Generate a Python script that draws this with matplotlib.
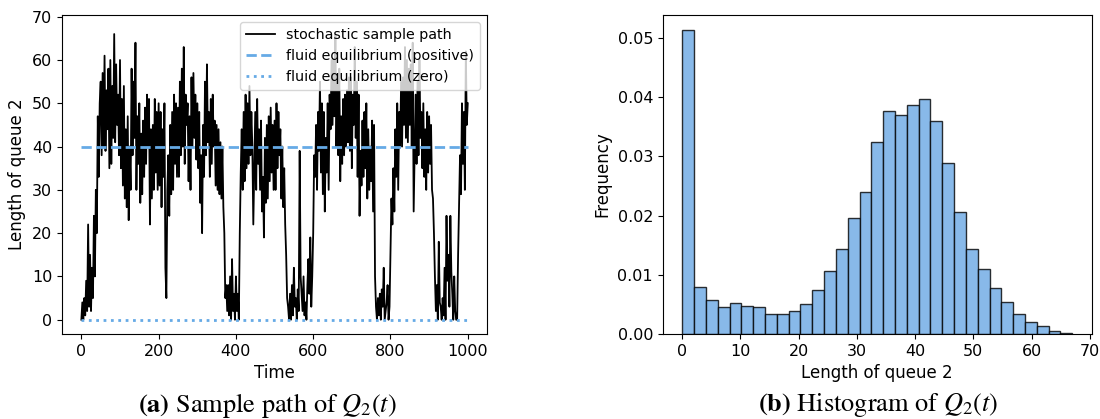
import matplotlib.pyplot as plt
import numpy as np

plt.rcParams['mathtext.fontset'] = 'stix'

# sample path of queue 2, read every 2.5 time units
times = np.arange(0, 1000.1, 2.5)
queue2 = [
    0, 4, 0, 5, 1, 9, 2, 22, 3, 15, 2, 12, 5, 24, 10, 30, 20, 47, 33, 50,
    55, 38, 57, 40, 61, 39, 53, 44, 58, 35, 60, 36, 54, 42, 66, 41, 59, 45, 52, 38,
    60, 35, 51, 31, 54, 28, 44, 26, 47, 23, 40, 30, 58, 38, 55, 42, 64, 30, 47, 36,
    50, 27, 43, 29, 46, 33, 49, 36, 52, 40, 51, 22, 44, 28, 45, 30, 51, 34, 48, 30,
    50, 31, 48, 26, 44, 33, 50, 12, 5, 30, 38, 24, 45, 29, 48, 30, 52, 36, 50, 33,
    49, 33, 55, 38, 58, 40, 63, 36, 52, 45, 50, 32, 47, 30, 56, 40, 57, 42, 52, 37,
    50, 35, 48, 27, 38, 20, 45, 33, 55, 38, 59, 41, 48, 33, 51, 36, 52, 40, 46, 31,
    45, 30, 44, 29, 41, 28, 40, 26, 20, 5, 8, 2, 8, 1, 10, 0, 14, 2, 6, 0,
    10, 2, 6, 0, 20, 34, 44, 30, 48, 32, 52, 35, 50, 36, 54, 38, 48, 40, 22, 35,
    48, 30, 51, 36, 44, 30, 46, 25, 33, 19, 42, 27, 45, 28, 47, 32, 49, 34, 45, 30,
    46, 30, 50, 35, 48, 38, 44, 28, 40, 26, 35, 22, 15, 5, 3, 0, 6, 0, 8, 1,
    12, 3, 5, 0, 7, 2, 39, 10, 6, 2, 10, 1, 4, 0, 8, 14, 6, 19, 3, 10,
    20, 38, 33, 45, 30, 48, 39, 55, 34, 50, 29, 48, 25, 42, 34, 50, 30, 52, 44, 60,
    45, 60, 47, 66, 40, 55, 38, 58, 32, 47, 36, 51, 38, 52, 40, 53, 41, 56, 39, 56,
    35, 52, 45, 63, 42, 55, 33, 52, 24, 39, 31, 46, 33, 48, 35, 50, 28, 44, 30, 40,
    32, 46, 25, 45, 10, 3, 0, 5, 1, 6, 0, 7, 3, 12, 0, 2, 4, 8, 0, 3,
    15, 28, 22, 35, 25, 44, 33, 50, 30, 48, 40, 55, 40, 56, 45, 63, 42, 60, 41, 58,
    45, 59, 40, 64, 25, 38, 52, 36, 55, 38, 60, 42, 48, 35, 50, 33, 44, 30, 48, 34,
    47, 36, 45, 30, 28, 20, 10, 2, 8, 0, 18, 4, 3, 0, 5, 1, 12, 0, 24, 9,
    15, 3, 24, 11, 6, 0, 10, 2, 0, 0, 15, 26, 38, 29, 50, 36, 48, 30, 62, 45,
    50,
]
fluid_pos = 40
fluid_zero = 0

# histogram of queue 2 (bin heights, 33 bins over 0..67)
bin_edges = np.linspace(0, 67, 34)
freq = [
    0.0513, 0.0079, 0.0057, 0.0046, 0.0053, 0.0047, 0.0045, 0.0033, 0.0034, 0.0039,
    0.0051, 0.0075, 0.0107, 0.0144, 0.0196, 0.0240, 0.0324, 0.0377, 0.0370, 0.0387,
    0.0396, 0.0359, 0.0288, 0.0206, 0.0144, 0.0109, 0.0077, 0.0054, 0.0034, 0.0021,
    0.0013, 0.00045, 0.00017,
]

blue = '#66aae6'

fig = plt.figure(figsize=(11, 4.19), dpi=100)
ax1 = fig.add_axes([0.0564, 0.2029, 0.3864, 0.7613])
ax2 = fig.add_axes([0.6025, 0.2029, 0.39, 0.7613])

ax1.plot(times, queue2, color='black', lw=1.3, label='stochastic sample path')
ax1.plot([0, 1000], [fluid_pos, fluid_pos], '--', color=blue, lw=2,
         label='fluid equilibrium (positive)')
ax1.plot([0, 1000], [fluid_zero, fluid_zero], ':', color=blue, lw=2,
         label='fluid equilibrium (zero)')
ax1.set_xlim(-50, 1050)
ax1.set_ylim(-3.3, 70.4)
ax1.set_xlabel('Time', fontsize=12)
ax1.set_ylabel('Length of queue 2', fontsize=12)
ax1.legend(loc='upper right', fontsize=10.3)

ax2.hist(bin_edges[:-1], bins=bin_edges, weights=freq,
         facecolor='#88b9e9', edgecolor=(0, 0, 0, 0.8), linewidth=1)
ax2.set_xlabel('Length of queue 2', fontsize=12)
ax2.set_ylabel('Frequency', fontsize=12)

for ax in (ax1, ax2):
    ax.tick_params(labelsize=11.5)

fig.text(0.243, 0.033, r'$\mathbf{(a)}$ Sample path of $Q_2(t)$',
         ha='center', va='center', fontsize=19, family='STIXGeneral')
fig.text(0.798, 0.033, r'$\mathbf{(b)}$ Histogram of $Q_2(t)$',
         ha='center', va='center', fontsize=19, family='STIXGeneral')

fig.savefig('out.png', dpi=100)
